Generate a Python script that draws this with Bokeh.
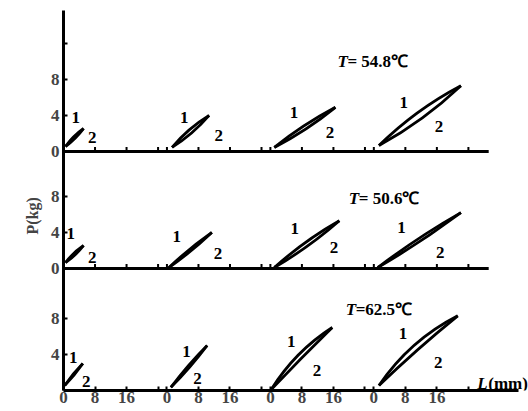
import numpy as np
from bokeh.plotting import figure
from bokeh.models import Range1d, FixedTicker, Title
from bokeh.core.properties import value
from bokeh.embed import file_html
from bokeh.resources import INLINE

# ---------------- data ----------------
TEMPS = ["54.8", "50.6", "62.5"]          # panels, top to bottom
X_TICKS_MM = [0, 8, 16, 24]
X_TICK_LABELS = ["0", "8", "16", ""]
Y_TICKS_KG = [[0, 4, 8, 12], [0, 4, 8], [4, 8]]
Y_TICK_LABELS = [["0", "4", "8", ""], ["0", "4", "8"], ["4", "8"]]

# loops: rows = panels, cols = 4 loading cycles
L_START = [[0.5, 1.3, 1.0, 1.3], [0.5, 0.5, 1.0, 1.0], [0.3, 1.0, 0.2, 1.3]]
P_START = [[0.55, 0.45, 0.45, 0.65], [0.65, 0.10, 0.10, 0.10], [0.55, 0.35, 0.10, 0.55]]
L_END = [[5.1, 10.7, 16.5, 22.1], [5.1, 11.4, 17.5, 22.1], [4.9, 10.2, 15.7, 21.3]]
P_END = [[2.55, 4.0, 4.9, 7.3], [2.55, 4.0, 5.3, 6.2], [3.0, 5.0, 7.0, 8.3]]
# mid points of branch 1 (loading, upper) and branch 2 (unloading, lower)
L_MID1 = [[2.62, 5.63, 8.50, 11.14], [2.62, 5.79, 8.95, 11.34], [2.50, 5.45, 7.10, 10.20]]
P_MID1 = [[1.63, 2.39, 2.83, 4.31], [1.68, 2.14, 2.90, 3.31], [1.84, 2.76, 3.95, 5.00]]
L_MID2 = [[2.98, 6.29, 9.01, 12.21], [2.98, 6.11, 9.57, 11.75], [2.70, 5.75, 7.80, 11.04]]
P_MID2 = [[1.47, 2.06, 2.50, 3.69], [1.52, 1.96, 2.54, 3.02], [1.72, 2.58, 3.55, 4.50]]

# ---------------- layout ----------------
FONT = "Liberation Serif"
GROUP_STEP = 26.25            # mm between the origins of the cycles
PANEL_BASE = [26.56, 13.56, 0.0]
X_MAX, Y_MAX = 118.0, 42.22
AXIS_END = 115.5
BASELINE_END = 107.9
# label offsets (px) for "1" (from branch-1 mid) and "2" (from branch-2 mid)
OFF1 = [[(2, -19), (-5, -12), (-10, -13), (-14, -10)],
        [(-3, -20), (-13, -13), (-11, -14), (-17, -11)],
        [(0, -16), (-2, -14), (-7, -13), (-11, -12)]]
OFF2 = [[(17, -1), (27, 3), (24, 4), (17, 8)],
        [(17, 3), (27, 3), (26, 2), (20, 11)],
        [(12, 6), (8, 11), (16, 12), (21, 13)]]
TITLE_POS = [(69.5, 10.0), (72.4, 7.8), (71.6, 9.0)]
TITLE_EQ = ["= ", "= ", "="]

p = figure(width=528, height=411, x_range=Range1d(0, X_MAX), y_range=Range1d(0, Y_MAX),
           output_backend="svg", toolbar_location=None,
           min_border_left=63, min_border_right=0, min_border_top=10, min_border_bottom=21)
p.outline_line_color = None
p.grid.visible = False

# axes
xt = [g * GROUP_STEP + t for g in range(4) for t in X_TICKS_MM]
xl = [lab for g in range(4) for lab in X_TICK_LABELS]
p.xaxis.ticker = FixedTicker(ticks=xt)
p.xaxis.major_label_overrides = {t: l for t, l in zip(xt, xl)}
p.xaxis.bounds = (0, AXIS_END)
yt, yl = [], []
for b, ts, ls in zip(PANEL_BASE, Y_TICKS_KG, Y_TICK_LABELS):
    yt += [b + t for t in ts]
    yl += ls
p.yaxis.ticker = FixedTicker(ticks=yt)
p.yaxis.major_label_overrides = {t: l for t, l in zip(yt, yl)}
for ax in (p.xaxis[0], p.yaxis[0]):
    ax.axis_label = None
    ax.axis_label_standoff = 0
    ax.axis_line_width = 3
    ax.major_tick_in = 4
    ax.major_tick_out = 0
    ax.minor_tick_in = 0
    ax.minor_tick_out = 0
    ax.major_tick_line_width = 2
    ax.minor_tick_line_color = None
    ax.major_label_text_font = FONT
    ax.major_label_text_font_style = "bold"
    ax.major_label_text_font_size = "17px"
p.xaxis.major_label_standoff = 1
p.yaxis.major_label_standoff = 4

p.add_layout(Title(text="P(kg)", align="left", offset=156, standoff=14, text_font=FONT,
                   text_font_style="bold", text_font_size="16px"), "left")

# internal baselines of the upper two panels
for b in PANEL_BASE[:2]:
    p.segment(x0=[0], y0=[b], x1=[BASELINE_END], y1=[b], line_width=3, line_color="black")
    p.segment(x0=xt, y0=[b] * len(xt), x1=xt, y1=[b + 0.5] * len(xt),
              line_width=2, line_color="black")

# loops
for i, b in enumerate(PANEL_BASE):
    for g in range(4):
        ox = g * GROUP_STEP
        x0, y0 = ox + L_START[i][g], b + P_START[i][g]
        x1, y1 = ox + L_END[i][g], b + P_END[i][g]
        for LM, PM in ((L_MID1, P_MID1), (L_MID2, P_MID2)):
            cx = ox + 2 * LM[i][g] - (L_START[i][g] + L_END[i][g]) / 2
            cy = b + 2 * PM[i][g] - (P_START[i][g] + P_END[i][g]) / 2
            p.quadratic(x0=[x0], y0=[y0], x1=[x1], y1=[y1], cx=[cx], cy=[cy],
                        line_width=2.8, line_color="black")
        # branch labels
        for lab, LM, PM, OFF in (("1", L_MID1, P_MID1, OFF1), ("2", L_MID2, P_MID2, OFF2)):
            p.text(x=[ox + LM[i][g]], y=[b + PM[i][g]], text=[lab],
                   x_offset=[OFF[i][g][0]], y_offset=[OFF[i][g][1]],
                   text_font=value(FONT), text_font_style="bold", text_font_size="17px",
                   text_align="center", text_baseline="middle", text_color="black")
    # panel title
    tx, ty = TITLE_POS[i]
    p.text(x=[tx], y=[b + ty], text=["T"], text_font=value(FONT),
           text_font_style="bold italic", text_font_size="17px",
           text_align="left", text_baseline="alphabetic", text_color="black")
    p.text(x=[tx], y=[b + ty], text=[TITLE_EQ[i] + TEMPS[i] + "\u2103"], x_offset=[10],
           text_font=value(FONT), text_font_style="bold", text_font_size="17px",
           text_align="left", text_baseline="alphabetic", text_color="black")

# x-axis name
p.text(x=[105.0], y=[0.78], text=["L"], text_font=value(FONT), text_font_style="bold italic",
       text_font_size="17px", text_align="left", text_baseline="alphabetic")
p.text(x=[105.0], y=[0.78], text=["(mm)"], x_offset=[11], text_font=value(FONT),
       text_font_style="bold", text_font_size="17px", text_align="left",
       text_baseline="alphabetic")

open("out.html", "w").write(file_html(p, INLINE))
